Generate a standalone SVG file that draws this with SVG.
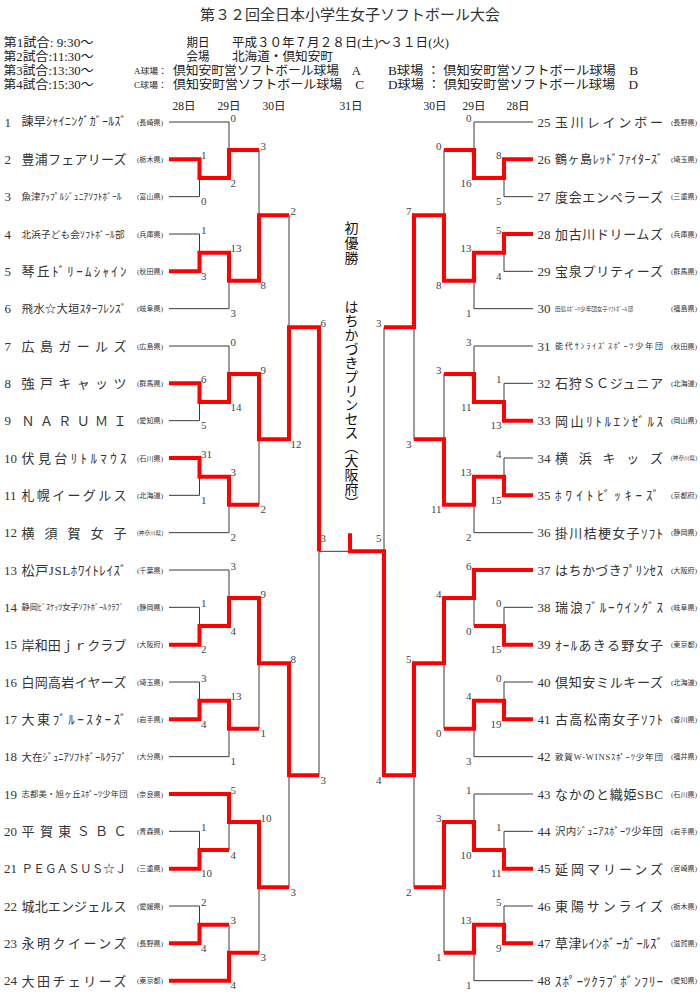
<svg xmlns="http://www.w3.org/2000/svg" width="700" height="995" viewBox="0 0 700 995">
<style>
.ln{fill:none;stroke:#3a3a3a;stroke-width:1}
.rd{fill:none;stroke:#ff0000;stroke-width:4;stroke-linejoin:miter;stroke-linecap:butt}
text{font-family:"Liberation Serif","Noto Sans CJK JP",serif;fill:#333}
.no{font-size:13px}
.pf{font-size:7px}
.pk{font-size:5.5px}
.sc{font-size:11px;fill:#444}
.scr{font-size:11px;fill:#444;text-anchor:end}
.hd{font-size:12.5px;fill:#222}
.hs{font-size:8px;fill:#222}
.dt{font-size:11.5px;text-anchor:middle;fill:#222}
.ch{font-family:"Noto Sans CJK JP",sans-serif;font-size:14px;fill:#111;writing-mode:vertical-rl}
</style>
<rect width="700" height="995" fill="#ffffff"/>
<g id="header">
<text x="350" y="19.5" text-anchor="middle" font-size="15" fill="#222">第３２回全日本小学生女子ソフトボール大会</text>
<text class="hd" x="3.5" y="46.5" textLength="90" lengthAdjust="spacingAndGlyphs">第1試合: 9:30～</text>
<text class="hd" x="3.5" y="60.5" textLength="90" lengthAdjust="spacingAndGlyphs">第2試合:11:30～</text>
<text class="hd" x="3.5" y="74.5" textLength="90" lengthAdjust="spacingAndGlyphs">第3試合:13:30～</text>
<text class="hd" x="3.5" y="88.5" textLength="90" lengthAdjust="spacingAndGlyphs">第4試合:15:30～</text>
<text class="hd" x="186.5" y="46.5" textLength="23" lengthAdjust="spacingAndGlyphs">期日</text>
<text class="hd" x="232" y="46.5" textLength="217" lengthAdjust="spacingAndGlyphs">平成３０年７月２８日(土)～３１日(火)</text>
<text class="hd" x="186.5" y="60.5" textLength="23" lengthAdjust="spacingAndGlyphs">会場</text>
<text class="hd" x="232" y="60.5" textLength="101" lengthAdjust="spacingAndGlyphs">北海道・倶知安町</text>
<text class="hs" x="134" y="73.5" textLength="33" lengthAdjust="spacingAndGlyphs">A球場：</text>
<text class="hd" x="173" y="74.5" textLength="188" lengthAdjust="spacingAndGlyphs">倶知安町営ソフトボール球場　A</text>
<text class="hd" x="388" y="74.5" textLength="250" lengthAdjust="spacingAndGlyphs">B球場 ： 倶知安町営ソフトボール球場　B</text>
<text class="hs" x="134" y="87.5" textLength="33" lengthAdjust="spacingAndGlyphs">C球場：</text>
<text class="hd" x="173" y="88.5" textLength="191" lengthAdjust="spacingAndGlyphs">倶知安町営ソフトボール球場　C</text>
<text class="hd" x="388" y="88.5" textLength="250" lengthAdjust="spacingAndGlyphs">D球場 ： 倶知安町営ソフトボール球場　D</text>
<text class="dt" x="184" y="110">28日</text>
<text class="dt" x="229" y="110">29日</text>
<text class="dt" x="274" y="110">30日</text>
<text class="dt" x="351" y="110">31日</text>
<text class="dt" x="435" y="110">30日</text>
<text class="dt" x="474" y="110">29日</text>
<text class="dt" x="518" y="110">28日</text>
</g>
<g id="connectors">
<path class="ln" d="M169,122H229 M169,159.33H199.5 M169,196.67H199.5 M199.5,159.33V196.67 M199.5,178H229 M229,122V178 M229,150H259
M169,234H199.5 M169,271.33H199.5 M199.5,234V271.33 M199.5,252.67H229 M169,308.67H229 M229,252.67V308.67 M229,280.67H259
M259,150V280.67 M259,215.33H289
M169,346H229 M169,383.33H199.5 M169,420.67H199.5 M199.5,383.33V420.67 M199.5,402H229 M229,346V402 M229,374H259
M169,458H199.5 M169,495.33H199.5 M199.5,458V495.33 M199.5,476.67H229 M169,532.67H229 M229,476.67V532.67 M229,504.67H259
M259,374V504.67 M259,439.33H289
M289,215.33V439.33 M289,327.33H319
M169,570H229 M169,607.33H199.5 M169,644.67H199.5 M199.5,607.33V644.67 M199.5,626H229 M229,570V626 M229,598H259
M169,682H199.5 M169,719.33H199.5 M199.5,682V719.33 M199.5,700.67H229 M169,756.67H229 M229,700.67V756.67 M229,728.67H259
M259,598V728.67 M259,663.33H289
M169,794H229 M169,831.33H199.5 M169,868.67H199.5 M199.5,831.33V868.67 M199.5,850H229 M229,794V850 M229,822H259
M169,906H199.5 M169,943.33H199.5 M199.5,906V943.33 M199.5,924.67H229 M169,980.67H229 M229,924.67V980.67 M229,952.67H259
M259,822V952.67 M259,887.33H289
M289,663.33V887.33 M289,775.33H319
M319,327.33V775.33 M319,551.33H350"/>
<path class="ln" d="M533,122H474 M533,159.33H504 M533,196.67H504 M504,159.33V196.67 M504,178H474 M474,122V178 M474,150H444
M533,234H504 M533,271.33H504 M504,234V271.33 M504,252.67H474 M533,308.67H474 M474,252.67V308.67 M474,280.67H444
M444,150V280.67 M444,215.33H414
M533,346H474 M533,383.33H504 M533,420.67H504 M504,383.33V420.67 M504,402H474 M474,346V402 M474,374H444
M533,458H504 M533,495.33H504 M504,458V495.33 M504,476.67H474 M533,532.67H474 M474,476.67V532.67 M474,504.67H444
M444,374V504.67 M444,439.33H414
M414,215.33V439.33 M414,327.33H384
M533,570H474 M533,607.33H504 M533,644.67H504 M504,607.33V644.67 M504,626H474 M474,570V626 M474,598H444
M533,682H504 M533,719.33H504 M504,682V719.33 M504,700.67H474 M533,756.67H474 M474,700.67V756.67 M474,728.67H444
M444,598V728.67 M444,663.33H414
M533,794H474 M533,831.33H504 M533,868.67H504 M504,831.33V868.67 M504,850H474 M474,794V850 M474,822H444
M533,906H504 M533,943.33H504 M504,906V943.33 M504,924.67H474 M533,980.67H474 M474,924.67V980.67 M474,952.67H444
M444,822V952.67 M444,887.33H414
M414,663.33V887.33 M414,775.33H384
M384,327.33V775.33 M384,551.33H350"/>
<path class="rd" d="M169,159.33H199.5V178H229V150H259"/>
<path class="rd" d="M169,271.33H199.5V252.67H229V280.67H259V215.33H289"/>
<path class="rd" d="M169,383.33H199.5V402H229V374H259V439.33H289V327.33H319V551.33"/>
<path class="rd" d="M169,458H199.5V476.67H229V504.67H259"/>
<path class="rd" d="M169,644.67H199.5V626H229V598H259V663.33H289V775.33H319"/>
<path class="rd" d="M169,719.33H199.5V700.67H229V728.67H259"/>
<path class="rd" d="M169,794H229V822H259V887.33H289"/>
<path class="rd" d="M169,868.67H199.5V850H229"/>
<path class="rd" d="M169,943.33H199.5V924.67H229"/>
<path class="rd" d="M169,980.67H229V952.67H259"/>
<path class="rd" d="M533,159.33H504V178H474V150H444"/>
<path class="rd" d="M533,234H504V252.67H474V280.67H444V215.33H414V327.33H384"/>
<path class="rd" d="M533,420.67H504V402H474V374H444"/>
<path class="rd" d="M533,495.33H504V476.67H474V504.67H444V439.33H414"/>
<path class="rd" d="M533,570H474V598H444V663.33H414V775.33H384V551.33H350V533.33"/>
<path class="rd" d="M533,644.67H504V626H474"/>
<path class="rd" d="M533,719.33H504V700.67H474V728.67H444"/>
<path class="rd" d="M533,868.67H504V850H474V822H444V887.33H414"/>
<path class="rd" d="M533,943.33H504V924.67H474V952.67H444"/>
</g>
<g id="scores">
<text class="sc" x="201" y="158.8">1</text><text class="sc" x="201" y="205.2">0</text>
<text class="sc" x="201" y="233.5">1</text><text class="sc" x="201" y="279.8">3</text>
<text class="sc" x="201" y="382.8">6</text><text class="sc" x="201" y="429.2">5</text>
<text class="sc" x="201" y="457.5">31</text><text class="sc" x="201" y="503.8">1</text>
<text class="sc" x="201" y="606.8">1</text><text class="sc" x="201" y="653.2">2</text>
<text class="sc" x="201" y="681.5">3</text><text class="sc" x="201" y="727.8">4</text>
<text class="sc" x="201" y="830.8">1</text><text class="sc" x="201" y="877.2">10</text>
<text class="sc" x="201" y="905.5">2</text><text class="sc" x="201" y="951.8">4</text>
<text class="sc" x="230.5" y="121.5">0</text><text class="sc" x="230.5" y="186.5">2</text>
<text class="sc" x="230.5" y="252.2">13</text><text class="sc" x="230.5" y="317.2">3</text>
<text class="sc" x="230.5" y="345.5">0</text><text class="sc" x="230.5" y="410.5">14</text>
<text class="sc" x="230.5" y="476.2">3</text><text class="sc" x="230.5" y="541.2">2</text>
<text class="sc" x="230.5" y="569.5">3</text><text class="sc" x="230.5" y="634.5">4</text>
<text class="sc" x="230.5" y="700.2">13</text><text class="sc" x="230.5" y="765.2">1</text>
<text class="sc" x="230.5" y="793.5">5</text><text class="sc" x="230.5" y="858.5">4</text>
<text class="sc" x="230.5" y="924.2">3</text><text class="sc" x="230.5" y="989.2">4</text>
<text class="sc" x="260.5" y="149.5">3</text><text class="sc" x="260.5" y="289.2">8</text>
<text class="sc" x="260.5" y="373.5">9</text><text class="sc" x="260.5" y="513.2">2</text>
<text class="sc" x="260.5" y="597.5">9</text><text class="sc" x="260.5" y="737.2">1</text>
<text class="sc" x="260.5" y="821.5">10</text><text class="sc" x="260.5" y="961.2">3</text>
<text class="sc" x="290.5" y="214.8">2</text><text class="sc" x="290.5" y="447.8">12</text>
<text class="sc" x="290.5" y="662.8">8</text><text class="sc" x="290.5" y="895.8">3</text>
<text class="sc" x="320.5" y="326.8">6</text><text class="sc" x="320.5" y="783.8">3</text>
<text class="sc" x="320.5" y="542">3</text>
<text class="scr" x="501.5" y="158.8">8</text><text class="scr" x="501.5" y="205.2">5</text>
<text class="scr" x="501.5" y="233.5">5</text><text class="scr" x="501.5" y="279.8">4</text>
<text class="scr" x="501.5" y="382.8">1</text><text class="scr" x="501.5" y="429.2">13</text>
<text class="scr" x="501.5" y="457.5">4</text><text class="scr" x="501.5" y="503.8">15</text>
<text class="scr" x="501.5" y="606.8">0</text><text class="scr" x="501.5" y="653.2">15</text>
<text class="scr" x="501.5" y="681.5">0</text><text class="scr" x="501.5" y="727.8">19</text>
<text class="scr" x="501.5" y="830.8">1</text><text class="scr" x="501.5" y="877.2">11</text>
<text class="scr" x="501.5" y="905.5">5</text><text class="scr" x="501.5" y="951.8">9</text>
<text class="scr" x="471.5" y="121.5">0</text><text class="scr" x="471.5" y="186.5">16</text>
<text class="scr" x="471.5" y="252.2">13</text><text class="scr" x="471.5" y="317.2">1</text>
<text class="scr" x="471.5" y="345.5">3</text><text class="scr" x="471.5" y="410.5">11</text>
<text class="scr" x="471.5" y="476.2">13</text><text class="scr" x="471.5" y="541.2">2</text>
<text class="scr" x="471.5" y="569.5">6</text><text class="scr" x="471.5" y="634.5">0</text>
<text class="scr" x="471.5" y="700.2">4</text><text class="scr" x="471.5" y="765.2">3</text>
<text class="scr" x="471.5" y="793.5">1</text><text class="scr" x="471.5" y="858.5">10</text>
<text class="scr" x="471.5" y="924.2">13</text><text class="scr" x="471.5" y="989.2">1</text>
<text class="scr" x="441.5" y="149.5">0</text><text class="scr" x="441.5" y="289.2">8</text>
<text class="scr" x="441.5" y="373.5">3</text><text class="scr" x="441.5" y="513.2">11</text>
<text class="scr" x="441.5" y="597.5">4</text><text class="scr" x="441.5" y="737.2">0</text>
<text class="scr" x="441.5" y="821.5">3</text><text class="scr" x="441.5" y="961.2">1</text>
<text class="scr" x="411.5" y="214.8">7</text><text class="scr" x="411.5" y="447.8">3</text>
<text class="scr" x="411.5" y="662.8">5</text><text class="scr" x="411.5" y="895.8">2</text>
<text class="scr" x="381.5" y="326.8">3</text><text class="scr" x="381.5" y="783.8">4</text>
<text class="scr" x="381.5" y="542">5</text>
</g>
<g id="champion">
<text class="ch" x="351.5" y="221" letter-spacing="1">初優勝</text>
<text class="ch" x="351.5" y="300">はちかづきプリンセス（大阪府）</text>
</g>
<g id="team-1"><text class="no" x="4.5" y="126.5">1</text><text x="21.5" y="126.4" font-size="12" textLength="105" lengthAdjust="spacing">諫早ｼｬｲﾆﾝｸﾞｶﾞｰﾙｽﾞ</text><text class="pf" x="137" y="124.5" textLength="26" lengthAdjust="spacingAndGlyphs">(長崎県)</text></g>
<g id="team-2"><text class="no" x="4.5" y="163.8">2</text><text x="21.5" y="164.1" font-size="13" textLength="105" lengthAdjust="spacing">豊浦フェアリーズ</text><text class="pf" x="137" y="161.8" textLength="26" lengthAdjust="spacingAndGlyphs">(栃木県)</text></g>
<g id="team-3"><text class="no" x="4.5" y="201.2">3</text><text x="21.5" y="200.2" font-size="9.5" textLength="100" lengthAdjust="spacing">魚津ｱｯﾌﾟﾙｼﾞｭﾆｱｿﾌﾄﾎﾞｰﾙ</text><text class="pf" x="137" y="199.2" textLength="26" lengthAdjust="spacingAndGlyphs">(富山県)</text></g>
<g id="team-4"><text class="no" x="4.5" y="238.5">4</text><text x="21.5" y="237.5" font-size="9.5" textLength="103" lengthAdjust="spacing">北浜子ども会ｿﾌﾄﾎﾞｰﾙ部</text><text class="pf" x="137" y="236.5" textLength="26" lengthAdjust="spacingAndGlyphs">(兵庫県)</text></g>
<g id="team-5"><text class="no" x="4.5" y="275.8">5</text><text x="21.5" y="276.1" font-size="13" textLength="105" lengthAdjust="spacing">琴丘ﾄﾞﾘｰﾑｼｬｲﾝ</text><text class="pf" x="137" y="273.8" textLength="26" lengthAdjust="spacingAndGlyphs">(秋田県)</text></g>
<g id="team-6"><text class="no" x="4.5" y="313.2">6</text><text x="21.5" y="312.9" font-size="11.5" textLength="105" lengthAdjust="spacing">飛水☆大垣ｽﾀｰﾌﾚﾝｽﾞ</text><text class="pf" x="137" y="311.2" textLength="26" lengthAdjust="spacingAndGlyphs">(岐阜県)</text></g>
<g id="team-7"><text class="no" x="4.5" y="350.5">7</text><text x="21.5" y="350.8" font-size="13" textLength="105" lengthAdjust="spacing">広島ガールズ</text><text class="pf" x="137" y="348.5" textLength="26" lengthAdjust="spacingAndGlyphs">(広島県)</text></g>
<g id="team-8"><text class="no" x="4.5" y="387.8">8</text><text x="21.5" y="388.1" font-size="13" textLength="105" lengthAdjust="spacing">強戸キャッツ</text><text class="pf" x="137" y="385.8" textLength="26" lengthAdjust="spacingAndGlyphs">(群馬県)</text></g>
<g id="team-9"><text class="no" x="4.5" y="425.2">9</text><text x="21.5" y="425.5" font-size="13" textLength="105" lengthAdjust="spacing">ＮＡＲＵＭＩ</text><text class="pf" x="137" y="423.2" textLength="26" lengthAdjust="spacingAndGlyphs">(愛知県)</text></g>
<g id="team-10"><text class="no" x="4" y="462.5">10</text><text x="21.5" y="462.8" font-size="13" textLength="105" lengthAdjust="spacing">伏見台ﾘﾄﾙﾏｳｽ</text><text class="pf" x="137" y="460.5" textLength="26" lengthAdjust="spacingAndGlyphs">(石川県)</text></g>
<g id="team-11"><text class="no" x="4" y="499.8">11</text><text x="21.5" y="500.1" font-size="13" textLength="105" lengthAdjust="spacing">札幌イーグルス</text><text class="pf" x="137" y="497.8" textLength="26" lengthAdjust="spacingAndGlyphs">(北海道)</text></g>
<g id="team-12"><text class="no" x="4" y="537.2">12</text><text x="21.5" y="537.5" font-size="13" textLength="105" lengthAdjust="spacing">横須賀女子</text><text class="pk" x="137" y="534.7" textLength="26" lengthAdjust="spacingAndGlyphs">(神奈川県)</text></g>
<g id="team-13"><text class="no" x="4" y="574.5">13</text><text x="21.5" y="574.8" font-size="13" textLength="105" lengthAdjust="spacing">松戸JSLﾎﾜｲﾄﾚｲｽﾞ</text><text class="pf" x="137" y="572.5" textLength="26" lengthAdjust="spacingAndGlyphs">(千葉県)</text></g>
<g id="team-14"><text class="no" x="4" y="611.8">14</text><text x="21.5" y="610.4" font-size="8.2" textLength="102" lengthAdjust="spacing">静岡ﾋﾞｽｹｯﾂ女子ｿﾌﾄﾎﾞｰﾙｸﾗﾌﾞ</text><text class="pf" x="137" y="609.8" textLength="26" lengthAdjust="spacingAndGlyphs">(静岡県)</text></g>
<g id="team-15"><text class="no" x="4" y="649.2">15</text><text x="21.5" y="649.5" font-size="13" textLength="105" lengthAdjust="spacing">岸和田ｊｒクラブ</text><text class="pf" x="137" y="647.2" textLength="26" lengthAdjust="spacingAndGlyphs">(大阪府)</text></g>
<g id="team-16"><text class="no" x="4" y="686.5">16</text><text x="21.5" y="686.8" font-size="13" textLength="105" lengthAdjust="spacing">白岡高岩イヤーズ</text><text class="pf" x="137" y="684.5" textLength="26" lengthAdjust="spacingAndGlyphs">(埼玉県)</text></g>
<g id="team-17"><text class="no" x="4" y="723.8">17</text><text x="21.5" y="724.1" font-size="13" textLength="105" lengthAdjust="spacing">大東ﾌﾞﾙｰｽﾀｰｽﾞ</text><text class="pf" x="137" y="721.8" textLength="26" lengthAdjust="spacingAndGlyphs">(岩手県)</text></g>
<g id="team-18"><text class="no" x="4" y="761.2">18</text><text x="21.5" y="760.6" font-size="10.5" textLength="105" lengthAdjust="spacing">大在ｼﾞｭﾆｱｿﾌﾄﾎﾞｰﾙｸﾗﾌﾞ</text><text class="pf" x="137" y="759.2" textLength="26" lengthAdjust="spacingAndGlyphs">(大分県)</text></g>
<g id="team-19"><text class="no" x="4" y="798.5">19</text><text x="21.5" y="797.1" font-size="8.4" textLength="106" lengthAdjust="spacing">志都美・旭ヶ丘ｽﾎﾟｰﾂ少年団</text><text class="pf" x="137" y="796.5" textLength="26" lengthAdjust="spacingAndGlyphs">(奈良県)</text></g>
<g id="team-20"><text class="no" x="4" y="835.8">20</text><text x="21.5" y="836.1" font-size="13" textLength="105" lengthAdjust="spacing">平賀東ＳＢＣ</text><text class="pf" x="137" y="833.8" textLength="26" lengthAdjust="spacingAndGlyphs">(青森県)</text></g>
<g id="team-21"><text class="no" x="4" y="873.2">21</text><text x="21.5" y="872.9" font-size="11.5" textLength="105" lengthAdjust="spacing">ＰＥＧＡＳＵＳ☆Ｊ</text><text class="pf" x="137" y="871.2" textLength="26" lengthAdjust="spacingAndGlyphs">(三重県)</text></g>
<g id="team-22"><text class="no" x="4" y="910.5">22</text><text x="21.5" y="910.8" font-size="13" textLength="105" lengthAdjust="spacing">城北エンジェルス</text><text class="pf" x="137" y="908.5" textLength="26" lengthAdjust="spacingAndGlyphs">(愛媛県)</text></g>
<g id="team-23"><text class="no" x="4" y="947.8">23</text><text x="21.5" y="948.1" font-size="13" textLength="105" lengthAdjust="spacing">永明クイーンズ</text><text class="pf" x="137" y="945.8" textLength="26" lengthAdjust="spacingAndGlyphs">(長野県)</text></g>
<g id="team-24"><text class="no" x="4" y="985.2">24</text><text x="21.5" y="985.5" font-size="13" textLength="105" lengthAdjust="spacing">大田チェリーズ</text><text class="pf" x="137" y="983.2" textLength="26" lengthAdjust="spacingAndGlyphs">(東京都)</text></g>
<g id="team-25"><text class="no" x="537.5" y="126.5">25</text><text x="555" y="126.8" font-size="13" textLength="108" lengthAdjust="spacing">玉川レインボー</text><text class="pf" x="671" y="124.5" textLength="26" lengthAdjust="spacingAndGlyphs">(長野県)</text></g>
<g id="team-26"><text class="no" x="537.5" y="163.8">26</text><text x="555" y="163.8" font-size="12" textLength="108" lengthAdjust="spacing">鶴ヶ島ﾚｯﾄﾞﾌｧｲﾀｰｽﾞ</text><text class="pf" x="671" y="161.8" textLength="26" lengthAdjust="spacingAndGlyphs">(埼玉県)</text></g>
<g id="team-27"><text class="no" x="537.5" y="201.2">27</text><text x="555" y="201.5" font-size="13" textLength="108" lengthAdjust="spacing">度会エンペラーズ</text><text class="pf" x="671" y="199.2" textLength="26" lengthAdjust="spacingAndGlyphs">(三重県)</text></g>
<g id="team-28"><text class="no" x="537.5" y="238.5">28</text><text x="555" y="238.8" font-size="13" textLength="108" lengthAdjust="spacing">加古川ドリームズ</text><text class="pf" x="671" y="236.5" textLength="26" lengthAdjust="spacingAndGlyphs">(兵庫県)</text></g>
<g id="team-29"><text class="no" x="537.5" y="275.8">29</text><text x="555" y="276.1" font-size="13" textLength="108" lengthAdjust="spacing">宝泉プリティーズ</text><text class="pf" x="671" y="273.8" textLength="26" lengthAdjust="spacingAndGlyphs">(群馬県)</text></g>
<g id="team-30"><text class="no" x="537.5" y="313.2">30</text><text x="555" y="310.7" font-size="5.6" textLength="78" lengthAdjust="spacing">田島ｽﾎﾟｰﾂ少年団女子ｿﾌﾄﾎﾞｰﾙ部</text><text class="pf" x="671" y="311.2" textLength="26" lengthAdjust="spacingAndGlyphs">(福島県)</text></g>
<g id="team-31"><text class="no" x="537.5" y="350.5">31</text><text x="555" y="349" font-size="8" textLength="108" lengthAdjust="spacing">能代ｻﾝﾗｲｽﾞｽﾎﾟｰﾂ少年団</text><text class="pf" x="671" y="348.5" textLength="26" lengthAdjust="spacingAndGlyphs">(秋田県)</text></g>
<g id="team-32"><text class="no" x="537.5" y="387.8">32</text><text x="555" y="388.1" font-size="13" textLength="108" lengthAdjust="spacing">石狩ＳＣジュニア</text><text class="pf" x="671" y="385.8" textLength="26" lengthAdjust="spacingAndGlyphs">(北海道)</text></g>
<g id="team-33"><text class="no" x="537.5" y="425.2">33</text><text x="555" y="425.5" font-size="13" textLength="108" lengthAdjust="spacing">岡山ﾘﾄﾙｴﾝｾﾞﾙｽ</text><text class="pf" x="671" y="423.2" textLength="26" lengthAdjust="spacingAndGlyphs">(岡山県)</text></g>
<g id="team-34"><text class="no" x="537.5" y="462.5">34</text><text x="555" y="462.8" font-size="13" textLength="108" lengthAdjust="spacing">横浜キッズ</text><text class="pk" x="671" y="460" textLength="26" lengthAdjust="spacingAndGlyphs">(神奈川県)</text></g>
<g id="team-35"><text class="no" x="537.5" y="499.8">35</text><text x="555" y="500.1" font-size="13" textLength="104" lengthAdjust="spacing">ﾎﾜｲﾄﾋﾞｯｷｰｽﾞ</text><text class="pf" x="671" y="497.8" textLength="26" lengthAdjust="spacingAndGlyphs">(京都府)</text></g>
<g id="team-36"><text class="no" x="537.5" y="537.2">36</text><text x="555" y="537.5" font-size="13" textLength="108" lengthAdjust="spacing">掛川桔梗女子ｿﾌﾄ</text><text class="pf" x="671" y="535.2" textLength="26" lengthAdjust="spacingAndGlyphs">(静岡県)</text></g>
<g id="team-37"><text class="no" x="537.5" y="574.5">37</text><text x="555" y="574.8" font-size="13" textLength="108" lengthAdjust="spacing">はちかづきﾌﾟﾘﾝｾｽ</text><text class="pf" x="671" y="572.5" textLength="26" lengthAdjust="spacingAndGlyphs">(大阪府)</text></g>
<g id="team-38"><text class="no" x="537.5" y="611.8">38</text><text x="555" y="612.1" font-size="13" textLength="108" lengthAdjust="spacing">瑞浪ﾌﾞﾙｰｳｲﾝｸﾞｽ</text><text class="pf" x="671" y="609.8" textLength="26" lengthAdjust="spacingAndGlyphs">(岐阜県)</text></g>
<g id="team-39"><text class="no" x="537.5" y="649.2">39</text><text x="555" y="649.5" font-size="13" textLength="108" lengthAdjust="spacing">ｵｰﾙあきる野女子</text><text class="pf" x="671" y="647.2" textLength="26" lengthAdjust="spacingAndGlyphs">(東京都)</text></g>
<g id="team-40"><text class="no" x="537.5" y="686.5">40</text><text x="555" y="686.8" font-size="13" textLength="108" lengthAdjust="spacing">倶知安ミルキーズ</text><text class="pf" x="671" y="684.5" textLength="26" lengthAdjust="spacingAndGlyphs">(北海道)</text></g>
<g id="team-41"><text class="no" x="537.5" y="723.8">41</text><text x="555" y="724.1" font-size="13" textLength="108" lengthAdjust="spacing">古高松南女子ｿﾌﾄ</text><text class="pf" x="671" y="721.8" textLength="26" lengthAdjust="spacingAndGlyphs">(香川県)</text></g>
<g id="team-42"><text class="no" x="537.5" y="761.2">42</text><text x="555" y="759.8" font-size="8.5" textLength="108" lengthAdjust="spacing">敦賀W-WINSｽﾎﾟｰﾂ少年団</text><text class="pf" x="671" y="759.2" textLength="26" lengthAdjust="spacingAndGlyphs">(福井県)</text></g>
<g id="team-43"><text class="no" x="537.5" y="798.5">43</text><text x="555" y="798.8" font-size="13" textLength="108" lengthAdjust="spacing">なかのと織姫SBC</text><text class="pf" x="671" y="796.5" textLength="26" lengthAdjust="spacingAndGlyphs">(石川県)</text></g>
<g id="team-44"><text class="no" x="537.5" y="835.8">44</text><text x="555" y="835.2" font-size="10.5" textLength="108" lengthAdjust="spacing">沢内ｼﾞｭﾆｱｽﾎﾟｰﾂ少年団</text><text class="pf" x="671" y="833.8" textLength="26" lengthAdjust="spacingAndGlyphs">(岩手県)</text></g>
<g id="team-45"><text class="no" x="537.5" y="873.2">45</text><text x="555" y="873.5" font-size="13" textLength="108" lengthAdjust="spacing">延岡マリーンズ</text><text class="pf" x="671" y="871.2" textLength="26" lengthAdjust="spacingAndGlyphs">(宮崎県)</text></g>
<g id="team-46"><text class="no" x="537.5" y="910.5">46</text><text x="555" y="910.8" font-size="13" textLength="108" lengthAdjust="spacing">東陽サンライズ</text><text class="pf" x="671" y="908.5" textLength="26" lengthAdjust="spacingAndGlyphs">(栃木県)</text></g>
<g id="team-47"><text class="no" x="537.5" y="947.8">47</text><text x="555" y="948.1" font-size="13" textLength="108" lengthAdjust="spacing">草津ﾚｲﾝﾎﾞｰｶﾞｰﾙｽﾞ</text><text class="pf" x="671" y="945.8" textLength="26" lengthAdjust="spacingAndGlyphs">(滋賀県)</text></g>
<g id="team-48"><text class="no" x="537.5" y="985.2">48</text><text x="555" y="985.5" font-size="13" textLength="108" lengthAdjust="spacing">ｽﾎﾟｰﾂｸﾗﾌﾞﾎﾞﾝﾌﾘｰ</text><text class="pf" x="671" y="983.2" textLength="26" lengthAdjust="spacingAndGlyphs">(愛知県)</text></g>
</svg>
